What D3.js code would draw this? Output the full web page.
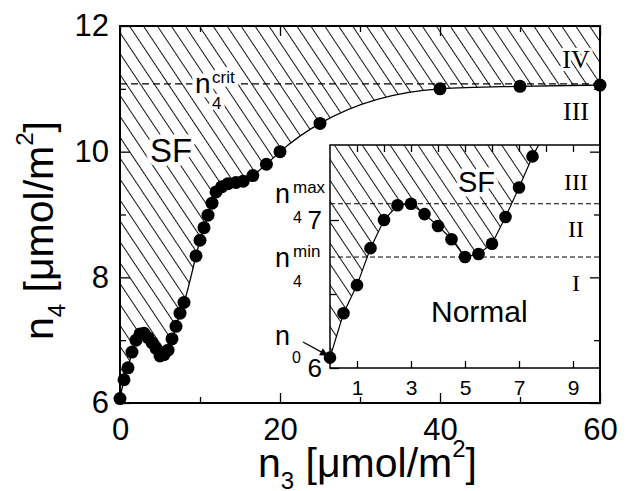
<!DOCTYPE html>
<html>
<head>
<meta charset="utf-8">
<script src="https://cdn.jsdelivr.net/npm/d3@7"></script>
<style>
  html, body { margin: 0; padding: 0; background: #fff; }
  svg { display: block; font-family: "Liberation Sans", Arial, sans-serif; }
  .roman { font-family: "Liberation Serif", "Times New Roman", serif; }
</style>
</head>
<body>
<div id="chart"></div>
<script>
// n3 [umol/m2] vs n4 [umol/m2], boundary of the SF region
const n3 = [0, 0.5, 1, 1.5, 2, 2.5, 3, 3.5, 4, 4.5, 5, 5.5, 6, 6.5, 7, 7.5, 8,
  9.5, 10, 10.5, 11, 11.5, 12, 12.7, 13.5, 14.5, 15.4, 16.6, 18.3, 20, 25, 40, 50, 60];
const n4 = [6.07, 6.37, 6.56, 6.81, 7.0, 7.10, 7.11, 7.04, 6.96, 6.87, 6.75, 6.77, 6.84, 7.02, 7.22, 7.43, 7.6,
  8.34, 8.59, 8.79, 8.99, 9.18, 9.36, 9.44, 9.49, 9.51, 9.53, 9.62, 9.8, 10.0, 10.45, 11.0, 11.04, 11.06];

const n4crit = 11.08;
const n4max = 7.11;
const n4min = 6.75;

const mainXTicks = [0, 20, 40, 60];
const mainXMinor = [10, 30, 50];
const mainYTicks = [6, 8, 10, 12];
const mainYMinor = [7, 9, 11];
const insetXTicks = [1, 3, 5, 7, 9];
const insetXTop = [1, 2, 3, 4, 5, 6, 7, 8, 9];
const insetYTicks = [6, 7];
const insetYMinor = [6.5];

const points = n3.map((v, i) => ({ x: v, y: n4[i] }));

const W = 628, H = 491;
const svg = d3.select('#chart').append('svg')
  .attr('width', W).attr('height', H);

const defs = svg.append('defs');
const hatch = defs.append('pattern')
  .attr('id', 'hatch')
  .attr('patternUnits', 'userSpaceOnUse')
  .attr('width', 11.6).attr('height', 20)
  .attr('patternTransform', 'rotate(-33.7)');
hatch.append('line')
  .attr('x1', 0.5).attr('y1', 0).attr('x2', 0.5).attr('y2', 20)
  .attr('stroke', '#111').attr('stroke-width', 1);

defs.append('marker')
  .attr('id', 'arrow')
  .attr('viewBox', '0 0 10 10')
  .attr('refX', 10).attr('refY', 5)
  .attr('markerWidth', 10).attr('markerHeight', 8)
  .attr('markerUnits', 'userSpaceOnUse')
  .attr('orient', 'auto')
  .append('path').attr('d', 'M0,0L10,5L0,10z').attr('fill', '#000');

// main scales
const x = d3.scaleLinear().domain([0, 60]).range([120, 600]);
const y = d3.scaleLinear().domain([6, 12]).range([403, 26]);
// inset scales
const xi = d3.scaleLinear().domain([0, 10]).range([330, 600]);
const yi = d3.scaleLinear().domain([6, 7.507]).range([368, 145]);

defs.append('clipPath').attr('id', 'clipMain').append('rect')
  .attr('x', 120).attr('y', 26).attr('width', 480).attr('height', 377);
defs.append('clipPath').attr('id', 'clipInset').append('rect')
  .attr('x', 330).attr('y', 145).attr('width', 270).attr('height', 223);

function halo(sel, w) {
  return sel.attr('stroke', '#fff').attr('stroke-width', w || 8)
    .attr('stroke-linejoin', 'round').attr('paint-order', 'stroke');
}

// ---- main plot ----
const main = svg.append('g');

main.append('path')
  .datum(points)
  .attr('clip-path', 'url(#clipMain)')
  .attr('fill', 'url(#hatch)')
  .attr('d', d3.area().x(d => x(d.x)).y0(y(12)).y1(d => y(d.y)).curve(d3.curveMonotoneX));

main.append('line')
  .attr('x1', x(0)).attr('x2', x(60)).attr('y1', y(n4crit)).attr('y2', y(n4crit))
  .attr('stroke', '#000').attr('stroke-width', 1.3).attr('stroke-dasharray', '7,4');

main.append('path')
  .datum(points)
  .attr('clip-path', 'url(#clipMain)')
  .attr('fill', 'none').attr('stroke', '#000').attr('stroke-width', 1.3)
  .attr('d', d3.line().x(d => x(d.x)).y(d => y(d.y)).curve(d3.curveMonotoneX));

main.selectAll('circle.pt')
  .data(points)
  .enter().append('circle')
  .attr('class', 'pt')
  .attr('cx', d => x(d.x)).attr('cy', d => y(d.y)).attr('r', 6.5)
  .attr('fill', '#000');

halo(main.append('text').attr('x', 150).attr('y', 162).attr('font-size', 33).text('SF'), 9);
halo(main.append('text').attr('x', 195).attr('y', 93).attr('font-size', 28).text('n'), 9);
halo(main.append('text').attr('x', 212).attr('y', 83).attr('font-size', 17).text('crit'), 8);
halo(main.append('text').attr('x', 212).attr('y', 109).attr('font-size', 17).text('4'), 7);
halo(main.append('text').attr('class', 'roman').attr('x', 576).attr('y', 68)
  .attr('text-anchor', 'middle').attr('font-size', 26).text('IV'), 6);
main.append('text').attr('class', 'roman').attr('x', 576).attr('y', 120)
  .attr('text-anchor', 'middle').attr('font-size', 26).text('III');

// ---- inset ----
const inset = svg.append('g');
inset.append('rect')
  .attr('x', 330).attr('y', 145).attr('width', 270).attr('height', 223)
  .attr('fill', '#fff');

const insetPts = points.filter(d => d.x <= 9.5);
inset.append('path')
  .datum(insetPts)
  .attr('clip-path', 'url(#clipInset)')
  .attr('fill', 'url(#hatch)')
  .attr('d', d3.area().x(d => xi(d.x)).y0(yi(7.507)).y1(d => yi(d.y)));

[n4max, n4min].forEach(v => {
  inset.append('line')
    .attr('x1', xi(0)).attr('x2', xi(10)).attr('y1', yi(v)).attr('y2', yi(v))
    .attr('stroke', '#000').attr('stroke-width', 1).attr('stroke-dasharray', '5,3');
});

inset.append('path')
  .datum(insetPts)
  .attr('clip-path', 'url(#clipInset)')
  .attr('fill', 'none').attr('stroke', '#000').attr('stroke-width', 1.2)
  .attr('d', d3.line().x(d => xi(d.x)).y(d => yi(d.y)));

inset.selectAll('circle.pt')
  .data(points.filter(d => d.x <= 7.5))
  .enter().append('circle')
  .attr('class', 'pt')
  .attr('cx', d => xi(d.x)).attr('cy', d => yi(d.y)).attr('r', 6.3)
  .attr('fill', '#000');

halo(inset.append('text').attr('x', 458).attr('y', 192).attr('font-size', 29).text('SF'), 9);
inset.append('text').attr('x', 431).attr('y', 322).attr('font-size', 30).text('Normal');
[['III', 190], ['II', 237], ['I', 291]].forEach(([t, by]) => {
  inset.append('text').attr('class', 'roman').attr('x', 576).attr('y', by)
    .attr('text-anchor', 'middle').attr('font-size', 24).text(t);
});

// inset frame + ticks
inset.append('rect')
  .attr('x', 330).attr('y', 145).attr('width', 270).attr('height', 223)
  .attr('fill', 'none').attr('stroke', '#000').attr('stroke-width', 1.5);

function styleAxis(g, fs) {
  g.select('.domain').remove();
  g.selectAll('line').attr('stroke', '#000').attr('stroke-width', 1.3);
  g.selectAll('text').attr('font-family', '"Liberation Sans", Arial, sans-serif')
    .attr('font-size', fs).attr('fill', '#000');
}

const fmt = d3.format('d');

inset.append('g').attr('transform', 'translate(0,368)')
  .call(d3.axisBottom(xi).tickValues(insetXTicks).tickSizeInner(-7).tickSizeOuter(0).tickPadding(12).tickFormat(fmt))
  .call(g => styleAxis(g, 21));
inset.append('g').attr('transform', 'translate(0,145)')
  .call(d3.axisTop(xi).tickValues(insetXTop).tickSizeInner(-7).tickSizeOuter(0).tickFormat(''))
  .call(g => styleAxis(g, 21));
inset.append('g').attr('transform', 'translate(330,0)')
  .call(d3.axisLeft(yi).tickValues(insetYTicks).tickSizeInner(-9).tickSizeOuter(0).tickPadding(8).tickFormat(fmt))
  .call(g => styleAxis(g, 26));
inset.append('g').attr('transform', 'translate(330,0)')
  .call(d3.axisLeft(yi).tickValues(insetYMinor).tickSizeInner(-6).tickSizeOuter(0).tickFormat(''))
  .call(g => styleAxis(g, 26));

// inset side labels
const side = svg.append('g').attr('font-size', 27);
side.append('text').attr('x', 275).attr('y', 203).text('n');
side.append('text').attr('x', 293).attr('y', 193).attr('font-size', 17).text('max');
side.append('text').attr('x', 293).attr('y', 223).attr('font-size', 16).text('4');
side.append('text').attr('x', 275).attr('y', 267).text('n');
side.append('text').attr('x', 293).attr('y', 257).attr('font-size', 17).text('min');
side.append('text').attr('x', 293).attr('y', 287).attr('font-size', 16).text('4');
side.append('text').attr('x', 275).attr('y', 345).text('n');
side.append('text').attr('x', 292).attr('y', 363).attr('font-size', 16).text('0');
side.append('line')
  .attr('x1', 303).attr('y1', 342).attr('x2', xi(n3[0]) - 2).attr('y2', yi(n4[0]) - 2)
  .attr('stroke', '#000').attr('stroke-width', 1.2)
  .attr('marker-end', 'url(#arrow)');

// ---- main frame + ticks ----
const axes = svg.append('g');
axes.append('g').attr('transform', 'translate(0,403)')
  .call(d3.axisBottom(x).tickValues(mainXTicks).tickSizeInner(-10).tickSizeOuter(0).tickPadding(15).tickFormat(fmt))
  .call(g => styleAxis(g, 31));
axes.append('g').attr('transform', 'translate(0,403)')
  .call(d3.axisBottom(x).tickValues(mainXMinor).tickSizeInner(-6).tickSizeOuter(0).tickFormat(''))
  .call(g => styleAxis(g, 31));
axes.append('g').attr('transform', 'translate(0,26)')
  .call(d3.axisTop(x).tickValues(mainXTicks).tickSizeInner(-10).tickSizeOuter(0).tickFormat(''))
  .call(g => styleAxis(g, 31));
axes.append('g').attr('transform', 'translate(0,26)')
  .call(d3.axisTop(x).tickValues(mainXMinor).tickSizeInner(-6).tickSizeOuter(0).tickFormat(''))
  .call(g => styleAxis(g, 31));
axes.append('g').attr('transform', 'translate(120,0)')
  .call(d3.axisLeft(y).tickValues(mainYTicks).tickSizeInner(-10).tickSizeOuter(0).tickPadding(11).tickFormat(fmt))
  .call(g => styleAxis(g, 31));
axes.append('g').attr('transform', 'translate(120,0)')
  .call(d3.axisLeft(y).tickValues(mainYMinor).tickSizeInner(-6).tickSizeOuter(0).tickFormat(''))
  .call(g => styleAxis(g, 31));
axes.append('g').attr('transform', 'translate(600,0)')
  .call(d3.axisRight(y).tickValues(mainYTicks).tickSizeInner(-10).tickSizeOuter(0).tickFormat(''))
  .call(g => styleAxis(g, 31));
axes.append('g').attr('transform', 'translate(600,0)')
  .call(d3.axisRight(y).tickValues(mainYMinor).tickSizeInner(-6).tickSizeOuter(0).tickFormat(''))
  .call(g => styleAxis(g, 31));

axes.append('rect')
  .attr('x', 120).attr('y', 26).attr('width', 480).attr('height', 377)
  .attr('fill', 'none').attr('stroke', '#000').attr('stroke-width', 2);

// axis titles
const xt = svg.append('text').attr('x', 258).attr('y', 477).attr('font-size', 41);
xt.append('tspan').text('n');
xt.append('tspan').attr('font-size', 24).attr('dy', 12).text('3');
xt.append('tspan').attr('dy', -12).text(' [\u03bcmol/m');
xt.append('tspan').attr('font-size', 24).attr('dy', -20).text('2');
xt.append('tspan').attr('dy', 20).text(']');

const yt = svg.append('text').attr('transform', 'translate(53,340) rotate(-90)').attr('font-size', 41);
yt.append('tspan').text('n');
yt.append('tspan').attr('font-size', 24).attr('dy', 12).text('4');
yt.append('tspan').attr('dy', -12).text(' [\u03bcmol/m');
yt.append('tspan').attr('font-size', 24).attr('dy', -20).text('2');
yt.append('tspan').attr('dy', 20).text(']');
</script>
</body>
</html>
